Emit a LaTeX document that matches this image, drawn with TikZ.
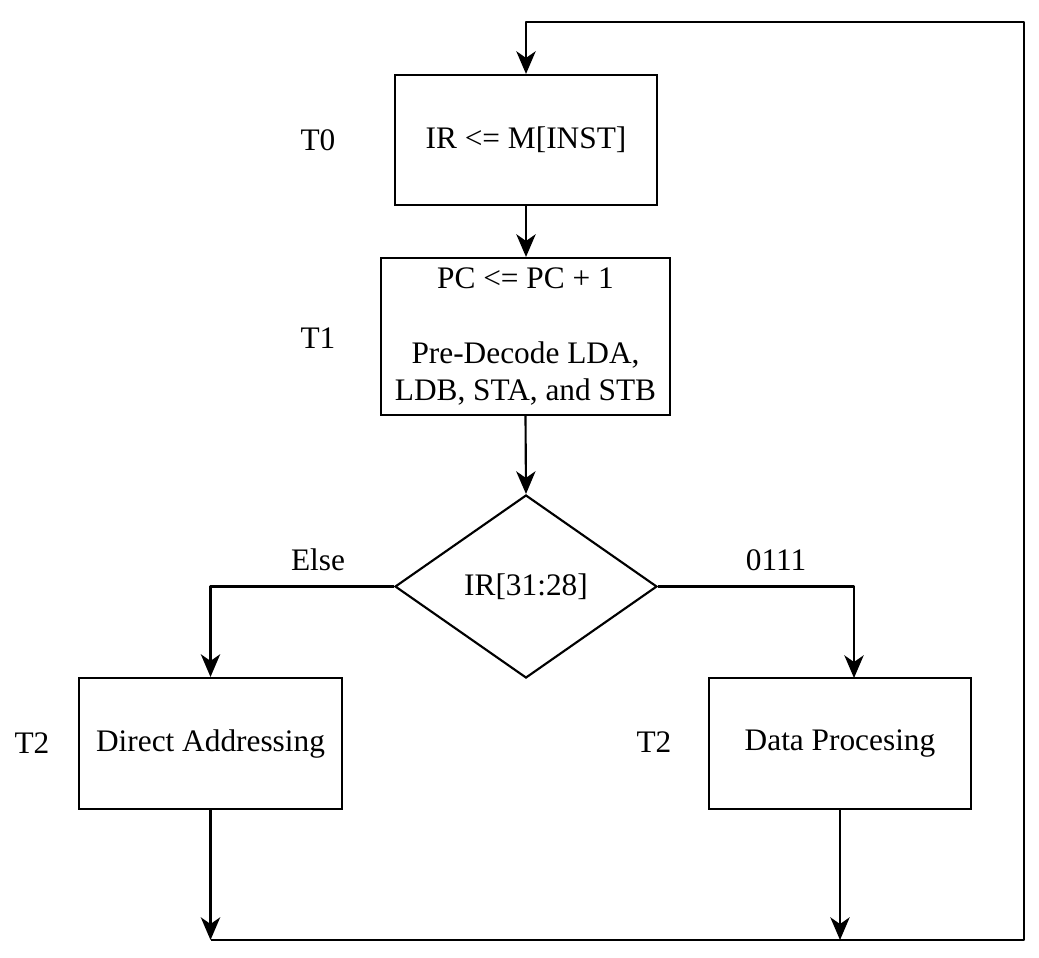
\documentclass[tikz,border=0pt]{standalone}
\usepackage{fontspec}
\setmainfont{Liberation Serif}
\usetikzlibrary{shapes.geometric,arrows.meta}
\begin{document}
\begin{tikzpicture}[x=0.75pt,y=-0.75pt,
  txt/.style={font=\fontsize{23.5}{28}\selectfont},
  box/.style={draw,line width=1.6pt,inner sep=0pt,align=center,txt},
  lbl/.style={inner sep=0pt,txt},
  conn/.style={line width=1.6pt,line join=round,-{Stealth[length=17pt,width=14.5pt,inset=5pt]}}]
\useasboundingbox (0,0) rectangle (1039,957);
\node[box,minimum width=196.5pt,minimum height=97.5pt] (b1) at (526,140) {IR <= M[INST]};
\node[box,minimum width=216.75pt,minimum height=117.75pt] (b2) at (525.5,336.5) {PC <= PC + 1\\[28pt]Pre-Decode LDA,\\LDB, STA, and STB};
\node[box,diamond,minimum width=196.5pt,minimum height=137.25pt] (dia) at (526,586.5) {IR[31:28]};
\node[box,minimum width=197pt,minimum height=98.25pt] (lb) at (210.5,743.5) {\raisebox{-2pt}{Direct Addressing}};
\node[box,minimum width=196.5pt,minimum height=98.25pt] (rb) at (840,743.5) {\raisebox{-2pt}{Data Procesing}};
\node[lbl] (t0) at (318,140) {T0};
\node[lbl] (t1) at (318,338) {T1};
\node[lbl] (t2a) at (32,743) {T2};
\node[lbl] (t2b) at (654,742) {T2};
\node[lbl] (else) at (318,560) {Else};
\node[lbl] (o111) at (776,560) {0111};
\coordinate (bl) at (210.5,940);
\coordinate (br) at (840,940);
\coordinate (c1) at (1024,940);
\coordinate (c2) at (1024,22);
\coordinate (rin) at (854,678);
\draw[conn] (b1.south) -- (b1.south |- b2.north);
\draw[conn] (b2.south) -- (dia.north);
\draw[conn] (dia.west) -| (lb.north);
\draw[conn] (dia.east) -| (rin);
\draw[conn] (lb.south) -- (bl);
\draw[conn] (rb.south) -- (br);
\draw[conn] (bl) -- (c1) -- (c2) -| (b1.north);
\end{tikzpicture}
\end{document}
